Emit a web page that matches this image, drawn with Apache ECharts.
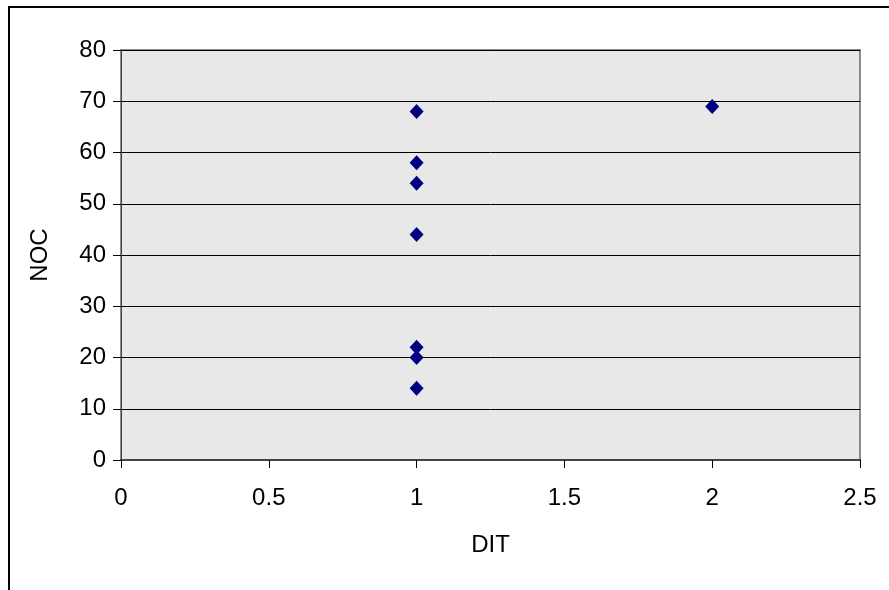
<!DOCTYPE html>
<html>
<head>
<meta charset="utf-8">
<script src="https://cdn.jsdelivr.net/npm/echarts@6/dist/echarts.min.js"></script>
<style>
  html, body { margin: 0; padding: 0; background: #fff; }
  #chart { width: 889px; height: 590px; }
</style>
</head>
<body>
<div id="chart"></div>
<script>
// DIT vs NOC scatter values
const ditValues = [1, 1, 1, 1, 1, 1, 1, 2];
const nocValues = [68, 58, 54, 44, 22, 20, 14, 69];
const xTicks = [0, 0.5, 1, 1.5, 2, 2.5];
const yTicks = [0, 10, 20, 30, 40, 50, 60, 70, 80];

const points = ditValues.map((d, i) => [d, nocValues[i]]);
const font = 'Liberation Sans, Arial, sans-serif';

const chart = echarts.init(document.getElementById('chart'));
chart.setOption({
  animation: false,
  backgroundColor: '#ffffff',
  graphic: [{
    type: 'rect',
    shape: { x: 9, y: 7, width: 900, height: 600 },
    style: { fill: 'none', stroke: '#000', lineWidth: 2 },
    silent: true,
    z: -1
  }],
  grid: {
    left: 121, top: 50, right: 29, bottom: 130,
    show: true,
    backgroundColor: '#e8e8e8',
    borderColor: '#8c8c8c',
    borderWidth: 2
  },
  xAxis: {
    type: 'value',
    min: xTicks[0], max: xTicks[xTicks.length - 1], interval: 0.5,
    name: 'DIT', nameLocation: 'middle', nameGap: 73,
    nameTextStyle: { fontFamily: font, fontSize: 24, color: '#000' },
    axisLine: { show: true, onZero: false, lineStyle: { color: '#444', width: 2 } },
    axisTick: { show: true, length: 8, lineStyle: { color: '#000', width: 1 } },
    axisLabel: { margin: 26, fontFamily: font, fontSize: 24, color: '#000',
      formatter: v => String(v) },
    splitLine: { show: false }
  },
  yAxis: {
    type: 'value',
    min: yTicks[0], max: yTicks[yTicks.length - 1], interval: 10,
    name: 'NOC', nameLocation: 'middle', nameGap: 69,
    nameTextStyle: { fontFamily: font, fontSize: 24, color: '#000' },
    axisLine: { show: true, lineStyle: { color: '#444', width: 1 } },
    axisTick: { show: true, length: 8, lineStyle: { color: '#000', width: 1 } },
    axisLabel: { margin: 15, fontFamily: font, fontSize: 24, color: '#000' },
    splitLine: { show: true, lineStyle: { color: '#000', width: 1 } }
  },
  series: [{
    type: 'scatter',
    data: points,
    symbol: 'diamond',
    symbolSize: [14, 15],
    itemStyle: { color: '#000080', opacity: 1 }
  }]
});
</script>
</body>
</html>
